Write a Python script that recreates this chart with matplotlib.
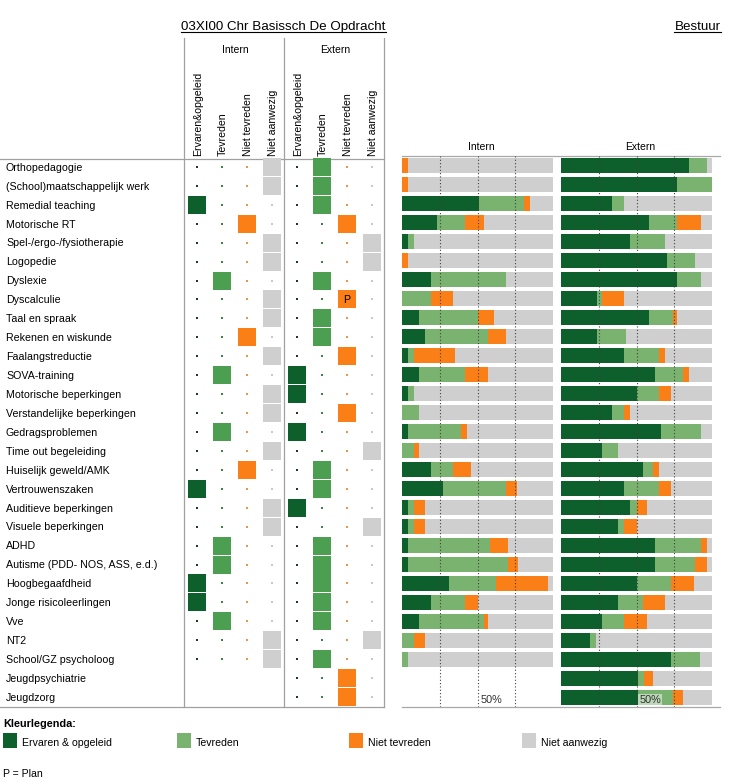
import matplotlib
matplotlib.use('Agg')
import matplotlib.pyplot as plt
import numpy as np
from matplotlib.patches import Rectangle
from matplotlib.lines import Line2D

plt.rcParams['font.family'] = ['Liberation Sans', 'DejaVu Sans']

# --- data ---------------------------------------------------------------
rows = ['Orthopedagogie', '(School)maatschappelijk werk', 'Remedial teaching',
        'Motorische RT', 'Spel-/ergo-/fysiotherapie', 'Logopedie', 'Dyslexie',
        'Dyscalculie', 'Taal en spraak', 'Rekenen en wiskunde', 'Faalangstreductie',
        'SOVA-training', 'Motorische beperkingen', 'Verstandelijke beperkingen',
        'Gedragsproblemen', 'Time out begeleiding', 'Huiselijk geweld/AMK',
        'Vertrouwenszaken', 'Auditieve beperkingen', 'Visuele beperkingen', 'ADHD',
        'Autisme (PDD- NOS, ASS, e.d.)', 'Hoogbegaafdheid', 'Jonge risicoleerlingen',
        'Vve', 'NT2', 'School/GZ psycholoog', 'Jeugdpsychiatrie', 'Jeugdzorg']

col_headers = ['Ervaren&opgeleid', 'Tevreden', 'Niet tevreden', 'Niet aanwezig']
legend_labels = ['Ervaren & opgeleid', 'Tevreden', 'Niet tevreden', 'Niet aanwezig']

# school status per row (E = ervaren, T = tevreden, N = niet tevreden, A = niet aanwezig)
intern_status = ['A', 'A', 'E', 'N', 'A', 'A', 'T', 'A', 'A', 'N', 'A', 'T', 'A', 'A', 'T',
                 'A', 'N', 'E', 'A', 'A', 'T', 'T', 'E', 'E', 'T', 'A', 'A', None, None]
extern_status = ['T', 'T', 'T', 'N', 'A', 'A', 'T', 'N', 'T', 'T', 'N', 'E', 'E', 'N', 'E',
                 'A', 'T', 'T', 'E', 'A', 'T', 'T', 'T', 'T', 'T', 'A', 'T', 'N', 'N']
extern_plan = ['', '', '', '', '', '', '', 'P', '', '', '', '', '', '', '',
               '', '', '', '', '', '', '', '', '', '', '', '', '', '']

# bestuur percentages
intern_ervaren = [0, 0, 51, 23, 4, 0, 19, 0, 11, 15, 4, 11, 4, 0, 4, 0, 19, 27, 4, 4, 4, 4, 31, 19, 11, 0, 0, 0, 0]
intern_tevreden = [0, 0, 30, 19, 4, 0, 50, 19, 39, 42, 4, 31, 4, 11, 35, 8, 15, 42, 4, 4, 54, 66, 31, 23, 43, 8, 4, 0, 0]
intern_niet_tevreden = [4, 4, 4, 12, 0, 4, 0, 15, 11, 12, 27, 15, 0, 0, 4, 3, 12, 7, 7, 7, 12, 7, 35, 8, 3, 7, 0, 0, 0]
intern_niet_aanwezig = [96, 96, 15, 46, 92, 96, 31, 66, 39, 31, 65, 43, 92, 89, 57, 89, 54, 24, 85, 85, 30, 23, 3, 50, 43, 85, 96, 0, 0]

extern_ervaren = [85, 77, 34, 58, 46, 70, 77, 24, 58, 24, 42, 62, 50, 34, 66, 27, 54, 42, 46, 38, 62, 62, 50, 38, 27, 19, 73, 51, 51]
extern_tevreden = [12, 23, 8, 19, 23, 19, 16, 3, 16, 19, 23, 19, 15, 8, 27, 11, 7, 23, 4, 4, 31, 27, 23, 16, 15, 4, 19, 4, 23]
extern_niet_tevreden = [0, 0, 0, 16, 0, 0, 0, 15, 3, 0, 4, 4, 8, 4, 0, 0, 4, 8, 7, 8, 4, 8, 15, 15, 15, 0, 0, 6, 7]
extern_niet_aanwezig = [3, 0, 58, 7, 31, 11, 7, 58, 23, 57, 31, 15, 27, 54, 7, 62, 35, 27, 43, 50, 3, 3, 12, 31, 43, 77, 8, 39, 19]

# --- style --------------------------------------------------------------
DARK = '#0D5F2B'
MID = '#4C9E50'
LIGHT = '#7AB26F'
ORANGE = '#FA7F16'
GREY = '#CFCFCF'
LINE = '#A0A0A0'
keys = ['E', 'T', 'N', 'A']
square_colors = {'E': DARK, 'T': MID, 'N': ORANGE, 'A': GREY}
dot_colors = {'E': '#1E3A24', 'T': '#3E8045', 'N': '#E8964A', 'A': '#C8C8C8'}
bar_colors = [DARK, LIGHT, ORANGE, GREY]

W, H = 747, 784
fig = plt.figure(figsize=(W / 100, H / 100), dpi=100)


def px_axes(x0, y0, x1, y1):
    return fig.add_axes([x0 / W, 1 - y1 / H, (x1 - x0) / W, (y1 - y0) / H])


# overlay in pixel coordinates for titles, rules and legend
over = px_axes(0, 0, W, H)
over.set_xlim(0, W)
over.set_ylim(H, 0)
over.axis('off')

# --- table --------------------------------------------------------------
n = len(rows)
tab = px_axes(0, 157.5, 384, 706.5)
tab.set_xlim(0, 384)
tab.set_ylim(n - 0.5, -0.5)
tab.axis('off')

intern_x = [197, 222, 247, 272]
extern_x = [297, 322, 347, 372]

for i, label in enumerate(rows):
    tab.text(6, i + 0.2, label, fontsize=7.7, va='baseline', ha='left')
    for xs, st in ((intern_x, intern_status[i]), (extern_x, extern_status[i])):
        if st is None:
            continue
        for x, k in zip(xs, keys):
            if k == st:
                tab.scatter(x, i, marker='s', s=150, color=square_colors[k], linewidths=0, zorder=3)
            else:
                tab.scatter(x, i, marker='s', s=2.2, color=dot_colors[k], linewidths=0, zorder=3)
    if extern_plan[i]:
        idx = keys.index(extern_status[i])
        tab.text(extern_x[idx], i + 0.05, extern_plan[i], fontsize=7.7, ha='center', va='center', zorder=4)

# table header
for xs, grp in ((intern_x, 'Intern'), (extern_x, 'Extern')):
    over.text(np.mean(xs) + 0.5, 53, grp, fontsize=7.5, ha='center', va='baseline')
    for x, h in zip(xs, col_headers):
        over.text(x + 1, 156, h, fontsize=7.6, rotation=90, ha='center', va='bottom')

for x in (184, 284, 384):
    over.add_line(Line2D([x, x], [38, 707], color=LINE, lw=0.9))
over.add_line(Line2D([0, 384], [159, 159], color=LINE, lw=0.9))
over.add_line(Line2D([0, 384], [706.5, 706.5], color=LINE, lw=0.9))

t1 = over.text(283.5, 29.5, '03XI00 Chr Basissch De Opdracht', fontsize=9.6, ha='center', va='baseline')
t2 = over.text(697.5, 29.5, 'Bestuur', fontsize=9.6, ha='center', va='baseline')

# --- bestuur bars -------------------------------------------------------
ax_in = px_axes(402, 156, 553, 707)
ax_ex = px_axes(561, 156, 712, 707)
y = np.arange(n)
for ax, series in ((ax_in, [intern_ervaren, intern_tevreden, intern_niet_tevreden, intern_niet_aanwezig]),
                   (ax_ex, [extern_ervaren, extern_tevreden, extern_niet_tevreden, extern_niet_aanwezig])):
    left = np.zeros(n)
    for vals, c in zip(series, bar_colors):
        vals = np.array(vals, dtype=float)
        ax.barh(y, vals, left=left, height=0.79, color=c, linewidth=0, zorder=2)
        left += vals
    ax.set_xlim(0, 100)
    ax.set_ylim(n - 0.5, -0.5)
    ax.axis('off')
    for g in (25, 50, 75):
        ax.axvline(g, color='#404040', lw=0.8, ls=(0, (1, 2)), zorder=4)

over.text(481.5, 150, 'Intern', fontsize=7.5, ha='center', va='baseline')
over.text(640, 150, 'Extern', fontsize=7.5, ha='center', va='baseline')
ax_in.text(52, n - 1 + 0.29, '50%', fontsize=7.8, color='#303030', ha='left', va='baseline', zorder=5)
ax_ex.text(52, n - 1 + 0.29, '50%', fontsize=7.8, color='#303030', ha='left', va='baseline', zorder=5,
           bbox=dict(boxstyle='square,pad=0.1', fc='white', ec='none', alpha=0.5))

over.add_line(Line2D([402, 720], [156, 156], color='#A8A8A8', lw=0.9))
over.add_line(Line2D([402, 720], [707, 707], color='#A8A8A8', lw=0.9))

# --- colour legend ------------------------------------------------------
over.text(3, 727, 'Kleurlegenda:', fontsize=7.8, fontweight='bold', va='baseline')
for x, lab, c in zip([3, 177, 349, 522], legend_labels, [DARK, LIGHT, ORANGE, GREY]):
    over.add_patch(Rectangle((x, 733), 14, 15, color=c, lw=0))
    over.text(x + 19, 745.5, lab, fontsize=7.6, va='baseline')
over.text(3, 777, 'P = Plan', fontsize=7.6, va='baseline')

# underline the two titles
fig.canvas.draw()
inv = over.transData.inverted()
for t in (t1, t2):
    bb = t.get_window_extent()
    (xa, _), (xb, _) = inv.transform([[bb.x0, bb.y0], [bb.x1, bb.y0]])
    over.add_line(Line2D([xa, xb], [32, 32], color='black', lw=0.8))

fig.savefig('out.png', dpi=100)
